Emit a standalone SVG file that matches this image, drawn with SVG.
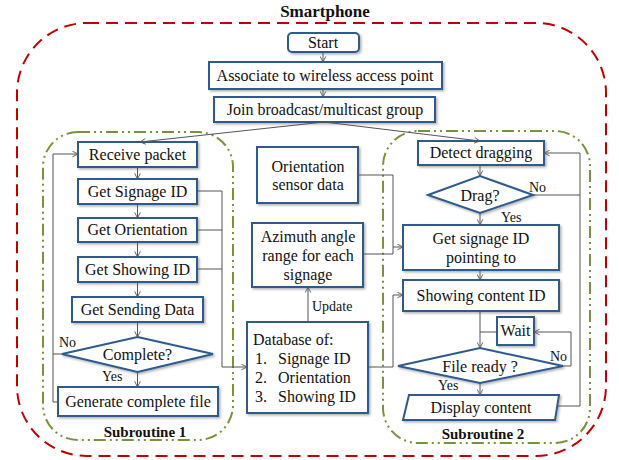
<svg xmlns="http://www.w3.org/2000/svg" width="619" height="460" viewBox="0 0 619 460" font-family="'Liberation Serif', 'Times New Roman', 'DejaVu Serif', serif">
  <defs>
    <marker id="arr" viewBox="0 0 10 10" refX="9" refY="5" markerWidth="7" markerHeight="7" orient="auto-start-reverse" markerUnits="userSpaceOnUse">
      <path d="M1,1 L9,5 L1,9" fill="none" stroke="#555" stroke-width="1.3"/>
    </marker>
    <filter id="sh" x="-10%" y="-10%" width="125%" height="140%">
      <feDropShadow dx="1.5" dy="1.5" stdDeviation="1" flood-color="#000" flood-opacity="0.3"/>
    </filter>
  </defs>
  <style>
    text { font-family: 'Liberation Serif', 'Times New Roman', 'DejaVu Serif', serif; }
    .box { fill: #fff; stroke: #2E5A8E; stroke-width: 2; filter: url(#sh); }
    .t { font-size: 16px; fill: #111; text-anchor: middle; }
    .tl { font-size: 16px; fill: #111; }
    .lbl { font-size: 14px; fill: #111; }
    .b { font-size: 15px; font-weight: bold; fill: #111; text-anchor: middle; }
    .c { fill: none; stroke: #555; stroke-width: 1; }
    .ca { fill: none; stroke: #555; stroke-width: 1; marker-end: url(#arr); }
    .outer { fill: none; stroke: #C00000; stroke-width: 2; stroke-dasharray: 12 7; }
    .sub { fill: none; stroke: #77933C; stroke-width: 2; stroke-dasharray: 12 4 2 4 2 4; }
  </style>

  <!-- frames -->
  <text class="b" x="325" y="17" style="font-size:17px">Smartphone</text>
  <rect class="outer" x="17" y="23" width="589" height="433" rx="70"/>
  <rect class="sub" x="43" y="132" width="190" height="308" rx="35"/>
  <rect class="sub" x="383" y="131" width="207" height="312" rx="35"/>
  <text class="b" x="145" y="437">Subroutine 1</text>
  <text class="b" x="483" y="439">Subroutine 2</text>

  <!-- main sequence -->
  <g id="start"><rect class="box" x="288" y="33" width="71" height="19" rx="4"/><text class="t" x="323" y="48">Start</text></g>
  <g id="associate"><rect class="box" x="209" y="62" width="233" height="27"/><text class="t" x="325" y="81">Associate to wireless access point</text></g>
  <g id="join"><rect class="box" x="214" y="97" width="221" height="25"/><text class="t" x="325" y="115">Join broadcast/multicast group</text></g>

  <!-- subroutine 1 -->
  <g id="receive"><rect class="box" x="78" y="142" width="119" height="25"/><text class="t" x="137.5" y="160">Receive packet</text></g>
  <g id="signage"><rect class="box" x="78" y="179" width="119" height="25"/><text class="t" x="137.5" y="197">Get Signage ID</text></g>
  <g id="orientation"><rect class="box" x="78" y="218" width="119" height="24"/><text class="t" x="137.5" y="235">Get Orientation</text></g>
  <g id="showing"><rect class="box" x="78" y="257" width="119" height="25"/><text class="t" x="137.5" y="275">Get Showing ID</text></g>
  <g id="sending"><rect class="box" x="72" y="297" width="131" height="25"/><text class="t" x="137.5" y="315">Get Sending Data</text></g>
  <g id="complete"><polygon class="box" points="62,354 137.5,337 213,354 137.5,372"/><text class="t" x="137.5" y="360">Complete?</text></g>
  <g id="generate"><rect class="box" x="58" y="387" width="160" height="29"/><text class="t" x="138" y="407">Generate complete file</text></g>

  <!-- middle column -->
  <g id="sensor"><rect class="box" x="257" y="147" width="101" height="56"/><text class="t" x="308" y="172">Orientation</text><text class="t" x="308" y="190">sensor data</text></g>
  <g id="azimuth"><rect class="box" x="252" y="223" width="111" height="64"/><text class="t" x="308" y="242">Azimuth angle</text><text class="t" x="308" y="261">range for each</text><text class="t" x="308" y="280">signage</text></g>
  <g id="database"><rect class="box" x="247" y="322" width="121" height="91"/>
    <text class="tl" x="253" y="345">Database of:</text>
    <text class="tl" x="255" y="364">1.</text><text class="tl" x="278" y="364">Signage ID</text>
    <text class="tl" x="255" y="383">2.</text><text class="tl" x="278" y="383">Orientation</text>
    <text class="tl" x="255" y="402">3.</text><text class="tl" x="278" y="402">Showing ID</text>
  </g>

  <!-- subroutine 2 -->
  <g id="detect"><rect class="box" x="418" y="141" width="126" height="24"/><text class="t" x="481" y="158">Detect dragging</text></g>
  <g id="drag"><polygon class="box" points="428,195 480,176 533,195 480,213"/><text class="t" x="480" y="201">Drag?</text></g>
  <g id="pointing"><rect class="box" x="403" y="225" width="156" height="45"/><text class="t" x="481" y="244">Get signage ID</text><text class="t" x="481" y="263">pointing to</text></g>
  <g id="content"><rect class="box" x="403" y="280" width="156" height="31"/><text class="t" x="481" y="301">Showing content ID</text></g>
  <g id="wait"><rect class="box" x="497" y="317" width="37" height="28"/><text class="t" x="515.5" y="336">Wait</text></g>
  <g id="ready"><polygon class="box" points="398,366 480,348 563,366 480,383"/><text class="t" x="480" y="372">File ready ?</text></g>
  <g id="display"><polygon class="box" points="409,395 559,395 555,420 403,420"/><text class="t" x="481" y="413">Display content</text></g>

  <!-- connectors -->
  <g id="connectors">
    <line class="ca" x1="323" y1="52" x2="323" y2="62"/>
    <line class="ca" x1="323" y1="89" x2="323" y2="97"/>
    <line class="ca" x1="324" y1="122" x2="140" y2="142"/>
    <line class="ca" x1="324" y1="122" x2="480" y2="141"/>

    <line class="ca" x1="137.5" y1="167" x2="137.5" y2="179"/>
    <line class="ca" x1="137.5" y1="204" x2="137.5" y2="218"/>
    <line class="ca" x1="137.5" y1="242" x2="137.5" y2="257"/>
    <line class="ca" x1="137.5" y1="282" x2="137.5" y2="297"/>
    <line class="ca" x1="137.5" y1="322" x2="137.5" y2="337"/>
    <line class="ca" x1="137.5" y1="372" x2="137.5" y2="387"/>
    <polyline class="c" points="62,354 53,354"/>
    <polyline class="ca" points="58,402 53,402 53,154 78,154"/>

    <polyline class="c" points="197,191 222,191 222,367"/>
    <polyline class="c" points="197,230 222,230"/>
    <polyline class="c" points="197,269 222,269"/>
    <polyline class="ca" points="222,367 247,367"/>

    <line class="ca" x1="308" y1="322" x2="308" y2="287"/>
    <text class="lbl" x="312" y="311">Update</text>

    <polyline class="c" points="358,175 393,175 393,254 363,254"/>
    <line class="ca" x1="393" y1="247" x2="403" y2="247"/>
    <polyline class="ca" points="368,367 393,367 393,295 403,295"/>

    <line class="ca" x1="480" y1="165" x2="480" y2="176"/>
    <polyline class="ca" points="533,195 580,195 580,153 544,153"/>
    <polyline class="c" points="557,406 580,406 580,195"/>
    <line class="ca" x1="480" y1="213" x2="480" y2="225"/>
    <line class="ca" x1="480" y1="270" x2="480" y2="280"/>
    <line class="ca" x1="480" y1="311" x2="480" y2="348"/>
    <line class="c" x1="497" y1="332" x2="480" y2="332"/>
    <polyline class="ca" points="563,366 571,366 571,332 534,332"/>
    <line class="ca" x1="480" y1="383" x2="480" y2="395"/>

    <text class="lbl" x="59" y="347">No</text>
    <text class="lbl" x="102" y="381">Yes</text>
    <text class="lbl" x="529" y="192">No</text>
    <text class="lbl" x="501" y="222">Yes</text>
    <text class="lbl" x="550" y="361">No</text>
    <text class="lbl" x="438" y="390">Yes</text>
  </g>
</svg>
